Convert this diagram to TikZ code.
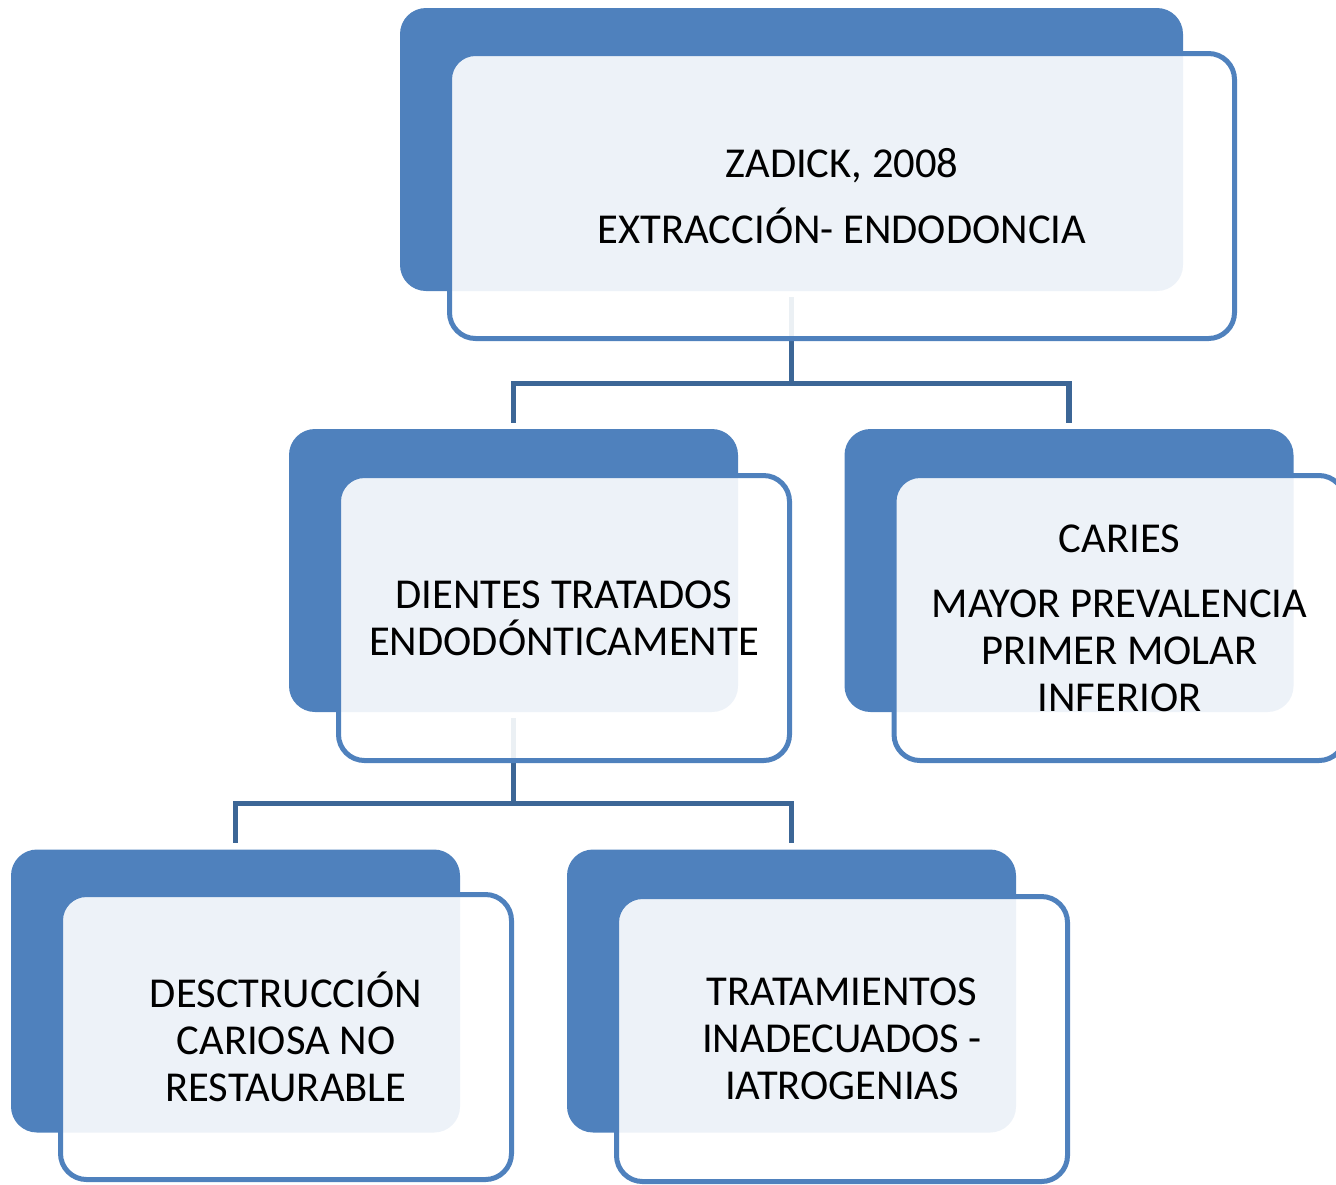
\documentclass[tikz,border=0pt]{standalone}
\usepackage{fontspec}
\setmainfont{Carlito}
\usetikzlibrary{backgrounds}
\definecolor{azul}{HTML}{4F81BD}
\definecolor{azuloscuro}{HTML}{3C6696}
\tikzset{
  fondo/.style={fill=azul, rounded corners=13pt, inner sep=0pt,
    minimum width=224.5pt, minimum height=141.5pt},
  caja/.style={draw=azul, line width=2.5pt, fill=white, fill opacity=0.9,
    text opacity=1, rounded corners=13pt, align=center,
    minimum width=225.5pt, minimum height=142.5pt,
    font=\fontsize{21.3}{23.5}\selectfont},
  conector/.style={draw=azuloscuro, line width=2.75pt}
}
\begin{document}
\begin{tikzpicture}[x=0.5pt,y=-0.5pt]
\useasboundingbox (0,0) rectangle (1336,1184);

% nivel 1
\node[fondo, minimum width=391.5pt] (zadickB) at (791.5,149.5) {};
\node[caja, minimum width=392.5pt] (zadick) at (842,196)
  {ZADICK, 2008\\[9.5pt]EXTRACCIÓN- ENDODONCIA};

% nivel 2
\node[fondo] (dientesB) at (513.5,570.5) {};
\node[caja] (dientes) at (564,618) {DIENTES TRATADOS\\ENDODÓNTICAMENTE};

\node[fondo] (cariesB) at (1069,570.5) {};
\node[caja] (caries) at (1119.5,618)
  {CARIES\\[9pt]MAYOR PREVALENCIA\\PRIMER MOLAR\\INFERIOR};

% nivel 3
\node[fondo] (destruccionB) at (235.5,991) {};
\node[caja] (destruccion) at (286,1037)
  {DESCTRUCCIÓN\\CARIOSA NO\\RESTAURABLE};

\node[fondo] (tratamientosB) at (791.5,991) {};
\node[caja] (tratamientos) at (842,1039)
  {TRATAMIENTOS\\INADECUADOS -\\IATROGENIAS};

% conectores
\begin{scope}[on background layer]
\draw[conector] ([yshift=-3pt]zadickB.south) -- ++(0,86) -| ([yshift=3pt]dientesB.north);
\draw[conector] ([yshift=-3pt]zadickB.south) -- ++(0,86) -| ([yshift=3pt]cariesB.north);
\draw[conector] ([yshift=-3pt]dientesB.south) -- ++(0,85) -| ([yshift=3pt]destruccionB.north);
\draw[conector] ([yshift=-3pt]dientesB.south) -- ++(0,85) -| ([yshift=3pt]tratamientosB.north);
\end{scope}
\end{tikzpicture}
\end{document}
